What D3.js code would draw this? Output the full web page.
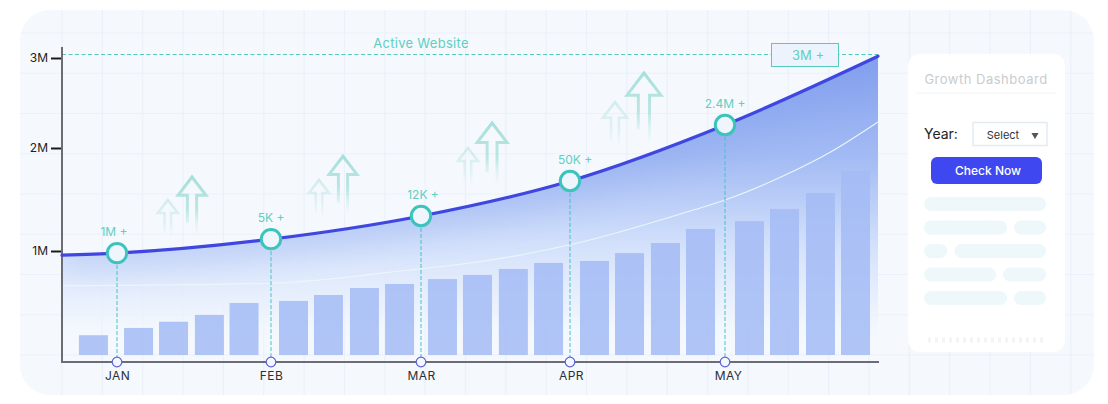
<!DOCTYPE html>
<html lang="en">
<head>
<meta charset="utf-8">
<style>
  html, body { margin: 0; padding: 0; background: #fff; overflow: hidden; }
  svg { display: block; font-family: Inter, "Noto Sans", sans-serif; }
</style>
</head>
<body>
<svg width="1108" height="404"></svg>
<script src="https://d3js.org/d3.v7.min.js"></script>
<script>
// data (x in months from JAN = 0, y in millions)
const months = ["JAN", "FEB", "MAR", "APR", "MAY"];
const yTicks = [1, 2, 3];
const lineX = [-0.357, 0, 1, 2, 3, 4, 5];
const lineY = [0.96, 0.98, 1.115, 1.34, 1.68, 2.256, 3.02];
const whiteX = [-0.357, 1, 2, 2.2, 3, 3.8, 4, 4.38, 4.69, 5];
const whiteY = [0.665, 0.69, 0.83, 0.86, 1.06, 1.4, 1.495, 1.728, 1.961, 2.289];
const pointLabels = ["1M +", "5K +", "12K +", "50K +", "2.4M +"];
const barX = [-0.153, 0.14, 0.367, 0.6, 0.825, 1.15, 1.383, 1.623, 1.857, 2.144, 2.379,
  2.62, 2.856, 3.158, 3.384, 3.616, 3.842, 4.16, 4.389, 4.624, 4.853];
const barY = [0.19, 0.26, 0.32, 0.385, 0.5, 0.52, 0.577, 0.644, 0.683, 0.73, 0.77,
  0.827, 0.885, 0.904, 0.98, 1.078, 1.214, 1.29, 1.408, 1.563, 1.777];
const arrowX = [0.33, 0.487, 1.32, 1.48, 2.315, 2.477, 3.29, 3.477];
const arrowY = [1.495, 1.718, 1.69, 1.92, 2.0, 2.278, 2.51, 2.833];
const arrowSize = [10, 14, 10, 14, 10, 15, 12, 17];
const pillRows = [[1], [0.71, 0.29], [0.22, 0.78], [0.62, 0.38], [0.71, 0.29]];

const teal = "#56cabd";
const svg = d3.select("svg");
const defs = svg.append("defs");

const x = d3.scaleLinear().domain(lineX).range([62, 117, 271, 421, 570, 725, 878]);
const y = d3.scaleLinear().domain([0, 1, 2, 3]).range([355, 251, 148, 58]);
const axisY = 362;

function gradient(id, stops, attrs) {
  const g = defs.append("linearGradient").attr("id", id);
  Object.entries(attrs).forEach(([k, v]) => g.attr(k, v));
  stops.forEach(s => g.append("stop").attr("offset", s[0]).attr("stop-color", s[1]).attr("stop-opacity", s[2]));
}
gradient("areaFill", [[0, "#83a0ee", 1], [0.35, "#a3bbf4", 1], [0.65, "#d2e0fb", 1], [0.88, "#eaf1fd", 0.8], [1, "#f4f8fe", 0]],
  { gradientUnits: "userSpaceOnUse", x1: 0, x2: 0, y1: 56, y2: 345 });
gradient("arrowBig", [[0, "#8ed8cf", 0.75], [0.55, "#9adcd4", 0.65], [1, "#c5ecea", 0]], { x1: 0, x2: 0, y1: 0, y2: 1 });
gradient("arrowSmall", [[0, "#b5e2e2", 0.55], [0.55, "#c5e8ea", 0.45], [1, "#dff3f5", 0]], { x1: 0, x2: 0, y1: 0, y2: 1 });

defs.append("filter").attr("id", "glow").attr("x", "-10%").attr("y", "-50%").attr("width", "120%").attr("height", "200%")
  .append("feGaussianBlur").attr("stdDeviation", 14);
defs.append("filter").attr("id", "soft").append("feGaussianBlur").attr("stdDeviation", 0.6);

// background panel and its grid
svg.append("rect").attr("x", 20).attr("y", 10).attr("width", 1074).attr("height", 385).attr("rx", 30).attr("fill", "#f5f9fe");
defs.append("clipPath").attr("id", "panelClip").append("rect")
  .attr("x", 20).attr("y", 10).attr("width", 1074).attr("height", 385).attr("rx", 30);
const grid = svg.append("g").attr("clip-path", "url(#panelClip)").attr("stroke", "#ebf0fa").attr("stroke-width", 1.2);
grid.selectAll(".v").data(d3.range(62, 1094, 40.35)).join("line").attr("class", "v")
  .attr("x1", d => d).attr("x2", d => d).attr("y1", 10).attr("y2", 395);
grid.selectAll(".h").data(d3.range(33, 395, 40.25)).join("line").attr("class", "h")
  .attr("x1", 20).attr("x2", 1094).attr("y1", d => d).attr("y2", d => d);

// arrows
const arrows = svg.append("g").attr("fill", "none").attr("stroke-linejoin", "miter");
arrowX.forEach((ax, i) => {
  const s = arrowSize[i], big = i % 2 === 1;
  const px = x(ax), py = y(arrowY[i]);
  const shaft = s * 0.33, wing = s * 1.3;
  const path = d3.path();
  path.moveTo(px - shaft, py + s * 3.3);
  path.lineTo(px - shaft, py + wing);
  path.lineTo(px - s, py + wing);
  path.lineTo(px, py);
  path.lineTo(px + s, py + wing);
  path.lineTo(px + shaft, py + wing);
  path.lineTo(px + shaft, py + s * 4.2);
  arrows.append("path").attr("d", path.toString())
    .attr("stroke", big ? "url(#arrowBig)" : "url(#arrowSmall)")
    .attr("stroke-width", big ? 3 : 2.6);
});

// area under the main line
const lineData = lineX.map((d, i) => [d, lineY[i]]);
const area = d3.area().x(d => x(d[0])).y1(d => y(d[1])).y0(345).curve(d3.curveMonotoneX);
const line = d3.line().x(d => x(d[0])).y(d => y(d[1])).curve(d3.curveMonotoneX);
svg.append("path").attr("d", area(lineData)).attr("fill", "url(#areaFill)");
defs.append("clipPath").attr("id", "areaClip").append("path").attr("d", area(lineData));
svg.append("g").attr("clip-path", "url(#areaClip)").append("path")
  .attr("d", line(lineData)).attr("fill", "none").attr("stroke", "#7f9cec")
  .attr("stroke-width", 40).attr("opacity", 0.2).attr("filter", "url(#glow)");

// white guide line
svg.append("path").attr("d", line(whiteX.map((d, i) => [d, whiteY[i]])))
  .attr("fill", "none").attr("stroke", "#eaf6f9").attr("stroke-width", 1.1);

// bars
svg.append("g").selectAll("rect").data(barX).join("rect")
  .attr("x", d => x(d) - 14.5).attr("width", 29)
  .attr("y", (d, i) => y(barY[i])).attr("height", (d, i) => y(0) - y(barY[i]))
  .attr("fill", "#a3bbf4").attr("fill-opacity", 0.85);

// top dashed line with its labels
svg.append("line").attr("x1", 62).attr("x2", 878).attr("y1", 54.5).attr("y2", 54.5)
  .attr("stroke", teal).attr("stroke-width", 1).attr("stroke-dasharray", "4 2.5");
svg.append("text").attr("x", 421).attr("y", 47.5).attr("text-anchor", "middle")
  .attr("font-size", 13).attr("fill", "#5ecfc2").attr("letter-spacing", 0.3).text("Active Website");
svg.append("rect").attr("x", 771.5).attr("y", 43.5).attr("width", 67).attr("height", 23)
  .attr("fill", "#ecf3fd").attr("stroke", teal);
svg.append("text").attr("x", 808).attr("y", 59.5).attr("text-anchor", "middle")
  .attr("font-size", 13).attr("fill", "#5ecfc2").text("3M +");

// axes
const yAxis = svg.append("g").attr("transform", "translate(62,0)")
  .call(d3.axisLeft(y).tickValues(yTicks).tickSize(11).tickPadding(3).tickFormat(d => d + "M"));
yAxis.select(".domain").remove();
yAxis.selectAll("line").attr("stroke", "#1c1c1c").attr("stroke-width", 2);
yAxis.selectAll("text").attr("font-size", 12).attr("font-family", "Inter").attr("fill", "#222");

svg.append("line").attr("x1", 62).attr("x2", 62).attr("y1", 47).attr("y2", axisY + 1).attr("stroke", "#6a6d75").attr("stroke-width", 2);

const xAxis = svg.append("g").attr("transform", `translate(0,${axisY})`)
  .call(d3.axisBottom(x).tickValues(d3.range(months.length)).tickSize(0).tickPadding(9).tickFormat(i => months[i]));
xAxis.select(".domain").remove();
xAxis.selectAll("text").attr("font-size", 12).attr("font-family", "Inter").attr("fill", "#2b2f36").attr("letter-spacing", 0.4)
  .attr("dx", (d, i) => [0, 0, 0, 1, 3][i]);
svg.append("line").attr("x1", 62).attr("x2", 879).attr("y1", axisY).attr("y2", axisY).attr("stroke", "#6a6d75").attr("stroke-width", 2);

// main line
svg.append("path").attr("d", line(lineData)).attr("fill", "none")
  .attr("stroke", "#3f47e0").attr("stroke-width", 3.2).attr("stroke-linecap", "round");

// month points: drop line, axis marker, ring, label
const points = months.map((m, i) => ({ month: i, value: lineY[i + 1], label: pointLabels[i] }));
const pt = svg.append("g").selectAll("g").data(points).join("g")
  .attr("transform", d => `translate(${x(d.month)},0)`);
pt.append("line").attr("y1", d => y(d.value)).attr("y2", axisY - 5)
  .attr("stroke", "#45c4c4").attr("stroke-width", 1).attr("stroke-dasharray", "4 2");
pt.append("circle").attr("cy", axisY).attr("r", 4.8)
  .attr("fill", "#f4f8fe").attr("stroke", "#5a60d8").attr("stroke-width", 1.2);
pt.append("circle").attr("cy", d => y(d.value)).attr("r", 9.7)
  .attr("fill", "#eef5fd").attr("stroke", "#3cc4bc").attr("stroke-width", 3);
pt.append("text").attr("y", d => y(d.value) - 17).attr("text-anchor", "middle")
  .attr("dx", (d, i) => [-3, 0, 2, 5, 0][i])
  .attr("font-size", 12).attr("fill", "#5ecfc2").text(d => d.label);

// side card
const card = svg.append("g");
card.append("rect").attr("x", 908).attr("y", 54).attr("width", 157).attr("height", 298).attr("rx", 12)
  .attr("fill", "#fff").attr("fill-opacity", 0.92);
card.append("text").attr("x", 986).attr("y", 83.5).attr("text-anchor", "middle")
  .attr("font-size", 13).attr("letter-spacing", 0.5).attr("fill", "#c9cccf").text("Growth Dashboard");
card.append("line").attr("x1", 916).attr("x2", 1056).attr("y1", 93).attr("y2", 93).attr("stroke", "#f0f3f7");
card.append("text").attr("x", 924).attr("y", 139).attr("font-size", 14).attr("fill", "#222").text("Year:");
card.append("rect").attr("x", 973).attr("y", 122.5).attr("width", 74).attr("height", 23)
  .attr("fill", "#fff").attr("stroke", "#e3ebf2").attr("stroke-width", 1.5);
card.append("text").attr("x", 1003).attr("y", 138.5).attr("text-anchor", "middle")
  .attr("font-size", 11).attr("fill", "#333").text("Select");
card.append("path").attr("d", d3.symbol(d3.symbolTriangle, 22)()).attr("transform", "translate(1035,135) rotate(180)").attr("fill", "#555");
card.append("rect").attr("x", 931).attr("y", 157).attr("width", 111).attr("height", 27).attr("rx", 6).attr("fill", "#3f48f0");
card.append("text").attr("x", 988).attr("y", 174.5).attr("text-anchor", "middle")
  .attr("font-size", 12).attr("font-weight", 500).attr("fill", "#fff").text("Check Now");

const pillScale = d3.scaleLinear().domain([0, 1]).range([924, 1046]);
const pillY = d3.scaleLinear().domain([0, 4]).range([197, 291]);
const pills = card.append("g").attr("filter", "url(#soft)");
pillRows.forEach((row, r) => {
  let start = 0;
  row.forEach(share => {
    const gap = row.length > 1 ? 3.5 : 0;
    pills.append("rect")
      .attr("x", pillScale(start) + (start > 0 ? gap : 0))
      .attr("width", pillScale(share) - pillScale(0) - gap)
      .attr("y", pillY(r)).attr("height", 14).attr("rx", 7).attr("fill", "#eef8fb");
    start += share;
  });
});
card.append("line").attr("x1", 928).attr("x2", 1047).attr("y1", 340).attr("y2", 340)
  .attr("stroke", "#f3f4f6").attr("stroke-width", 5).attr("stroke-dasharray", "3 4");
</script>
</body>
</html>
